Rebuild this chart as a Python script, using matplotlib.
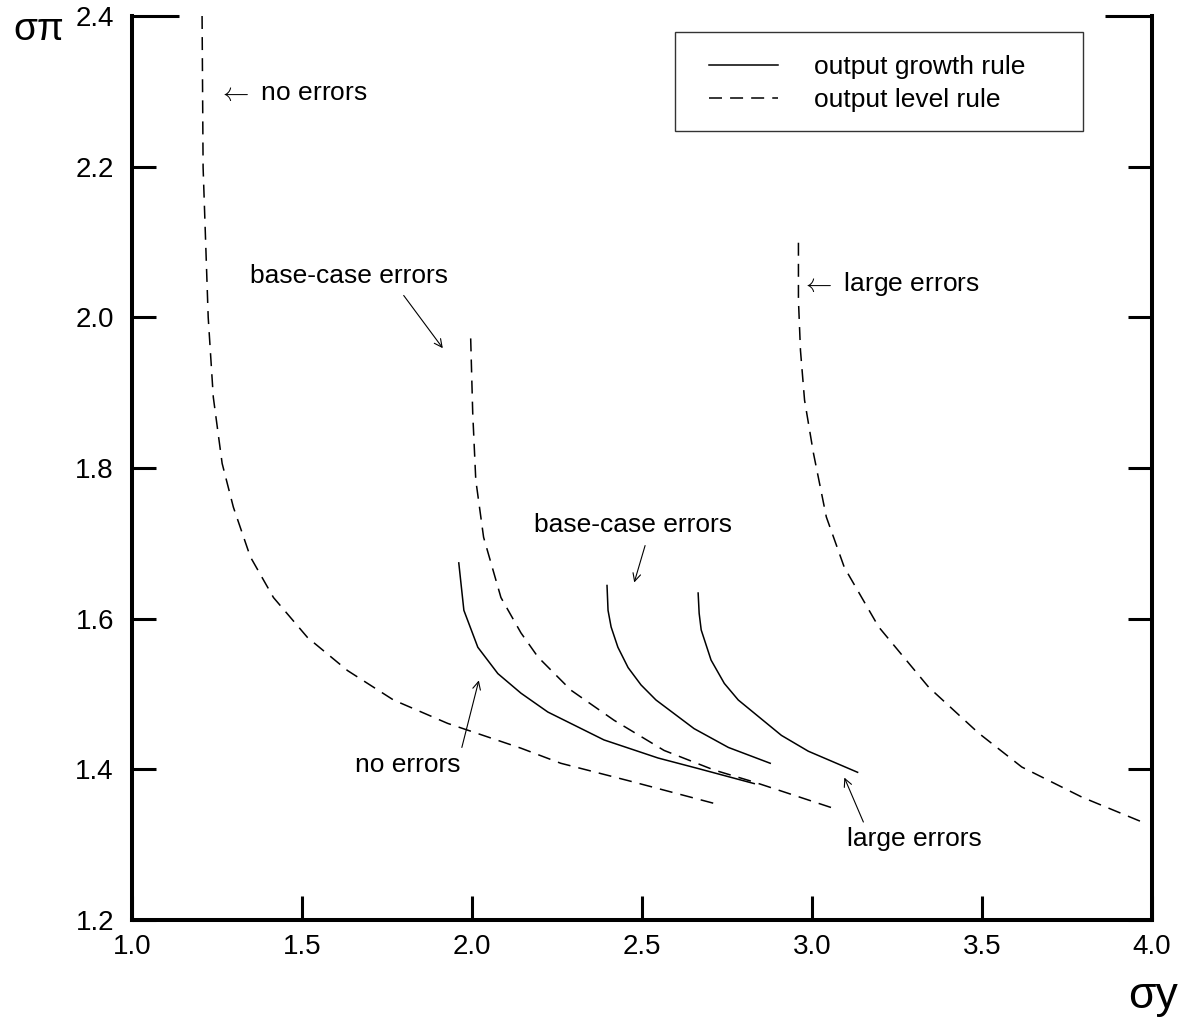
import matplotlib.pyplot as plt
from matplotlib.lines import Line2D
from matplotlib.patches import Rectangle

plt.rcParams['font.family'] = ['Liberation Sans', 'DejaVu Sans']
plt.rcParams['mathtext.fontset'] = 'cm'

# output level rule (dashed curves)
level_none_x = [1.206, 1.209, 1.224, 1.239, 1.265, 1.298, 1.348, 1.416, 1.516, 1.634, 1.769, 1.928, 2.144, 2.261, 2.459, 2.718]
level_none_y = [2.400, 2.199, 2.000, 1.894, 1.806, 1.748, 1.682, 1.628, 1.575, 1.531, 1.492, 1.461, 1.428, 1.408, 1.385, 1.354]
level_base_x = [1.996, 2.002, 2.011, 2.034, 2.085, 2.144, 2.194, 2.291, 2.418, 2.565, 2.712, 2.830, 3.078]
level_base_y = [1.972, 1.873, 1.784, 1.708, 1.628, 1.581, 1.549, 1.505, 1.465, 1.425, 1.399, 1.383, 1.346]
level_large_x = [2.960, 2.960, 2.966, 2.978, 3.004, 3.042, 3.095, 3.196, 3.343, 3.490, 3.617, 3.794, 3.971]
level_large_y = [2.099, 2.023, 1.956, 1.890, 1.820, 1.735, 1.668, 1.589, 1.509, 1.448, 1.403, 1.363, 1.330]

# output growth rule (solid curves)
growth_none_x = [1.961, 1.976, 2.017, 2.076, 2.144, 2.223, 2.388, 2.547, 2.665, 2.830]
growth_none_y = [1.674, 1.611, 1.562, 1.527, 1.501, 1.476, 1.439, 1.415, 1.401, 1.381]
growth_base_x = [2.397, 2.400, 2.409, 2.429, 2.459, 2.497, 2.541, 2.653, 2.754, 2.877]
growth_base_y = [1.644, 1.611, 1.589, 1.562, 1.535, 1.512, 1.492, 1.454, 1.429, 1.408]
growth_large_x = [2.665, 2.668, 2.674, 2.703, 2.742, 2.783, 2.910, 2.989, 3.134]
growth_large_y = [1.634, 1.607, 1.585, 1.545, 1.514, 1.492, 1.445, 1.424, 1.396]

x_ticks = [1.0, 1.5, 2.0, 2.5, 3.0, 3.5, 4.0]
x_labels = ['1.0', '1.5', '2.0', '2.5', '3.0', '3.5', '4.0']
y_ticks = [1.2, 1.4, 1.6, 1.8, 2.0, 2.2]
y_labels = ['1.2', '1.4', '1.6', '1.8', '2.0', '2.2']
y_top = [2.4]
y_top_label = ['2.4']

legend_labels = ['output growth rule', 'output level rule']

fig = plt.figure(figsize=(11.8, 10.19), dpi=100)
ax = fig.add_axes([0.1119, 0.0972, 0.8644, 0.8871])

dash = (0, (8.5, 5.3))
lw = 1.1
for xs, ys in [(level_none_x, level_none_y), (level_base_x, level_base_y), (level_large_x, level_large_y)]:
    ax.plot(xs, ys, color='black', lw=lw, linestyle=dash)
for xs, ys in [(growth_none_x, growth_none_y), (growth_base_x, growth_base_y), (growth_large_x, growth_large_y)]:
    ax.plot(xs, ys, color='black', lw=lw)

ax.set_xlim(1.0, 4.0)
ax.set_ylim(1.2, 2.4)
ax.set_xticks(x_ticks)
ax.set_xticklabels(x_labels)
ax.set_yticks(y_ticks)
ax.set_yticklabels(y_labels)
ax.set_yticks(y_top, minor=True)
ax.set_yticklabels(y_top_label, minor=True)

ax.spines['top'].set_visible(False)
for s in ['left', 'right', 'bottom']:
    ax.spines[s].set_linewidth(2.9)

ax.tick_params(axis='both', which='both', direction='in', width=2.2, labelsize=20, colors='black')
ax.tick_params(axis='y', which='both', left=True, right=True, labelleft=True, labelright=False, pad=13)
ax.tick_params(axis='y', which='major', length=17)
ax.tick_params(axis='y', which='minor', length=34)
ax.tick_params(axis='x', which='major', length=17, pad=10, top=False)

# annotations
fs = 19
ax.text(1.253, 2.288, r'$\leftarrow$ no errors', ha='left', va='baseline', fontsize=fs)
ax.text(2.969, 2.035, r'$\leftarrow$ large errors', ha='left', va='baseline', fontsize=fs)
ax.text(1.638, 2.045, 'base-case errors', ha='center', va='baseline', fontsize=fs)
ax.text(2.474, 1.715, 'base-case errors', ha='center', va='baseline', fontsize=fs)
ax.text(1.812, 1.396, 'no errors', ha='center', va='baseline', fontsize=fs)
ax.text(3.300, 1.298, 'large errors', ha='center', va='baseline', fontsize=fs)

arrow_style = dict(arrowstyle='->', lw=0.8, color='black', shrinkA=0, shrinkB=0, mutation_scale=14)
ax.annotate('', xy=(1.914, 1.959), xytext=(1.799, 2.029), arrowprops=arrow_style)
ax.annotate('', xy=(2.477, 1.648), xytext=(2.509, 1.697), arrowprops=arrow_style)
ax.annotate('', xy=(2.020, 1.518), xytext=(1.970, 1.429), arrowprops=arrow_style)
ax.annotate('', xy=(3.095, 1.389), xytext=(3.151, 1.330), arrowprops=arrow_style)

# legend
handles = [Line2D([], [], color='black', lw=lw),
           Line2D([], [], color='black', lw=lw, linestyle=dash)]
ax.legend(handles, legend_labels, loc='upper left', bbox_to_anchor=(0.5657, 0.957),
          frameon=False, borderpad=0, borderaxespad=0, handlelength=2.6,
          handletextpad=1.36, labelspacing=0.36, fontsize=fs)
ax.add_patch(Rectangle((0.5324, 0.8728), 0.400, 0.1095, transform=ax.transAxes,
                       fill=False, lw=1, edgecolor='#333333'))

fig.text(0.011, 0.9607, '\u03c3\u03c0', fontsize=28, va='baseline', ha='left')
fig.text(0.956, 0.0108, '\u03c3y', fontsize=32, va='baseline', ha='left')

fig.savefig('out.png', dpi=100)
